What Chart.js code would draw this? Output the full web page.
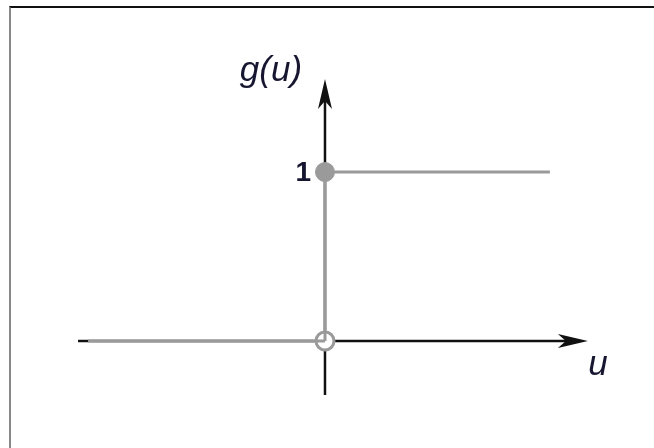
<!DOCTYPE html>
<html>
<head>
<meta charset="utf-8">
<script src="https://cdn.jsdelivr.net/npm/chart.js@4/dist/chart.umd.min.js"></script>
<style>
  html, body { margin: 0; padding: 0; background: #fff; }
  #wrap { position: relative; width: 654px; height: 448px; overflow: hidden; }
  #frame { position: absolute; left: 9px; top: 6px; width: 660px; height: 460px;
           border-top: 2px solid #111; border-left: 2px solid #888; pointer-events: none; }
  canvas { position: absolute; left: 0; top: 0; }
</style>
</head>
<body>
<div id="wrap">
  <canvas id="c" width="654" height="448"></canvas>
  <div id="frame"></div>
</div>
<script>
// Step function g(u): 0 for u < 0, 1 for u >= 0
const lowSegU = [-0.967, 0];
const lowSegG = [0, 0];
const riseU = [0, 0];
const riseG = [0, 1];
const highSegU = [0, 0.918];
const highSegG = [1, 1];
const closedPointU = [0];
const closedPointG = [1];
const openPointU = [0];
const openPointG = [0];
// axis extents (in data units) and labels
const uAxisRange = [-1.008, 1.073];
const gAxisRange = [-0.32, 1.55];
const yTickValues = [1];
const yTickLabels = ['1'];
const xAxisTitle = 'u';
const yAxisTitle = 'g(u)';

const zip = (xs, ys) => xs.map((x, i) => ({ x: x, y: ys[i] }));
const GRAY = '#9a9a9a';
const INK = '#111111';

const axesPlugin = {
  id: 'axesPlugin',
  beforeDatasetsDraw(chart) {
    const { ctx, scales: { x, y } } = chart;
    const x0 = x.getPixelForValue(0), y0 = y.getPixelForValue(0);
    const xa = x.getPixelForValue(uAxisRange[0]), xb = x.getPixelForValue(uAxisRange[1]);
    const ya = y.getPixelForValue(gAxisRange[0]), yb = y.getPixelForValue(gAxisRange[1]);
    ctx.save();
    ctx.strokeStyle = INK; ctx.fillStyle = INK; ctx.lineWidth = 2.5;
    // x axis
    ctx.beginPath(); ctx.moveTo(xa, y0); ctx.lineTo(xb - 10, y0); ctx.stroke();
    ctx.beginPath();
    ctx.moveTo(xb, y0); ctx.lineTo(xb - 30, y0 - 7); ctx.lineTo(xb - 22, y0); ctx.lineTo(xb - 30, y0 + 7);
    ctx.closePath(); ctx.fill();
    // y axis
    ctx.beginPath(); ctx.moveTo(x0, ya); ctx.lineTo(x0, yb + 10); ctx.stroke();
    ctx.beginPath();
    ctx.moveTo(x0, yb); ctx.lineTo(x0 - 7, yb + 30); ctx.lineTo(x0, yb + 22); ctx.lineTo(x0 + 7, yb + 30);
    ctx.closePath(); ctx.fill();
    ctx.restore();
  },
  afterDraw(chart) {
    const { ctx, scales: { x, y } } = chart;
    const x0 = x.getPixelForValue(0), y0 = y.getPixelForValue(0);
    const xb = x.getPixelForValue(uAxisRange[1]);
    const yb = y.getPixelForValue(gAxisRange[1]);
    ctx.save();
    ctx.fillStyle = '#161630';
    // tick labels
    ctx.font = 'bold 28px "Liberation Sans", Arial, sans-serif';
    ctx.textAlign = 'right'; ctx.textBaseline = 'alphabetic';
    yTickValues.forEach((v, i) => ctx.fillText(yTickLabels[i], x0 - 14, y.getPixelForValue(v) + 9));
    // titles
    ctx.font = 'italic 35px "Liberation Sans", Arial, sans-serif';
    ctx.textAlign = 'center';
    ctx.fillText(yAxisTitle, x0 - 54, yb + 2);
    ctx.fillText(xAxisTitle, xb + 10, y0 + 34);
    ctx.restore();
  }
};

new Chart(document.getElementById('c'), {
  type: 'scatter',
  data: {
    datasets: [
      { data: zip(lowSegU, lowSegG), showLine: true, borderColor: GRAY, borderWidth: 3, pointRadius: 0 },
      { data: zip(riseU, riseG), showLine: true, borderColor: GRAY, borderWidth: 3, pointRadius: 0 },
      { data: zip(highSegU, highSegG), showLine: true, borderColor: GRAY, borderWidth: 3, pointRadius: 0 },
      { data: zip(closedPointU, closedPointG), pointRadius: 9.5, backgroundColor: GRAY, borderColor: GRAY, borderWidth: 1 },
      { data: zip(openPointU, openPointG), pointRadius: 9, backgroundColor: '#ffffff', borderColor: GRAY, borderWidth: 3 }
    ]
  },
  options: {
    responsive: false,
    animation: false,
    events: [],
    layout: { padding: 0, autoPadding: false },
    plugins: { legend: { display: false }, tooltip: { enabled: false } },
    scales: {
      x: { type: 'linear', display: false, min: -1.3265, max: 1.3429 },
      y: { type: 'linear', display: false, min: -0.633, max: 2.018 }
    }
  },
  plugins: [axesPlugin]
});
</script>
</body>
</html>
